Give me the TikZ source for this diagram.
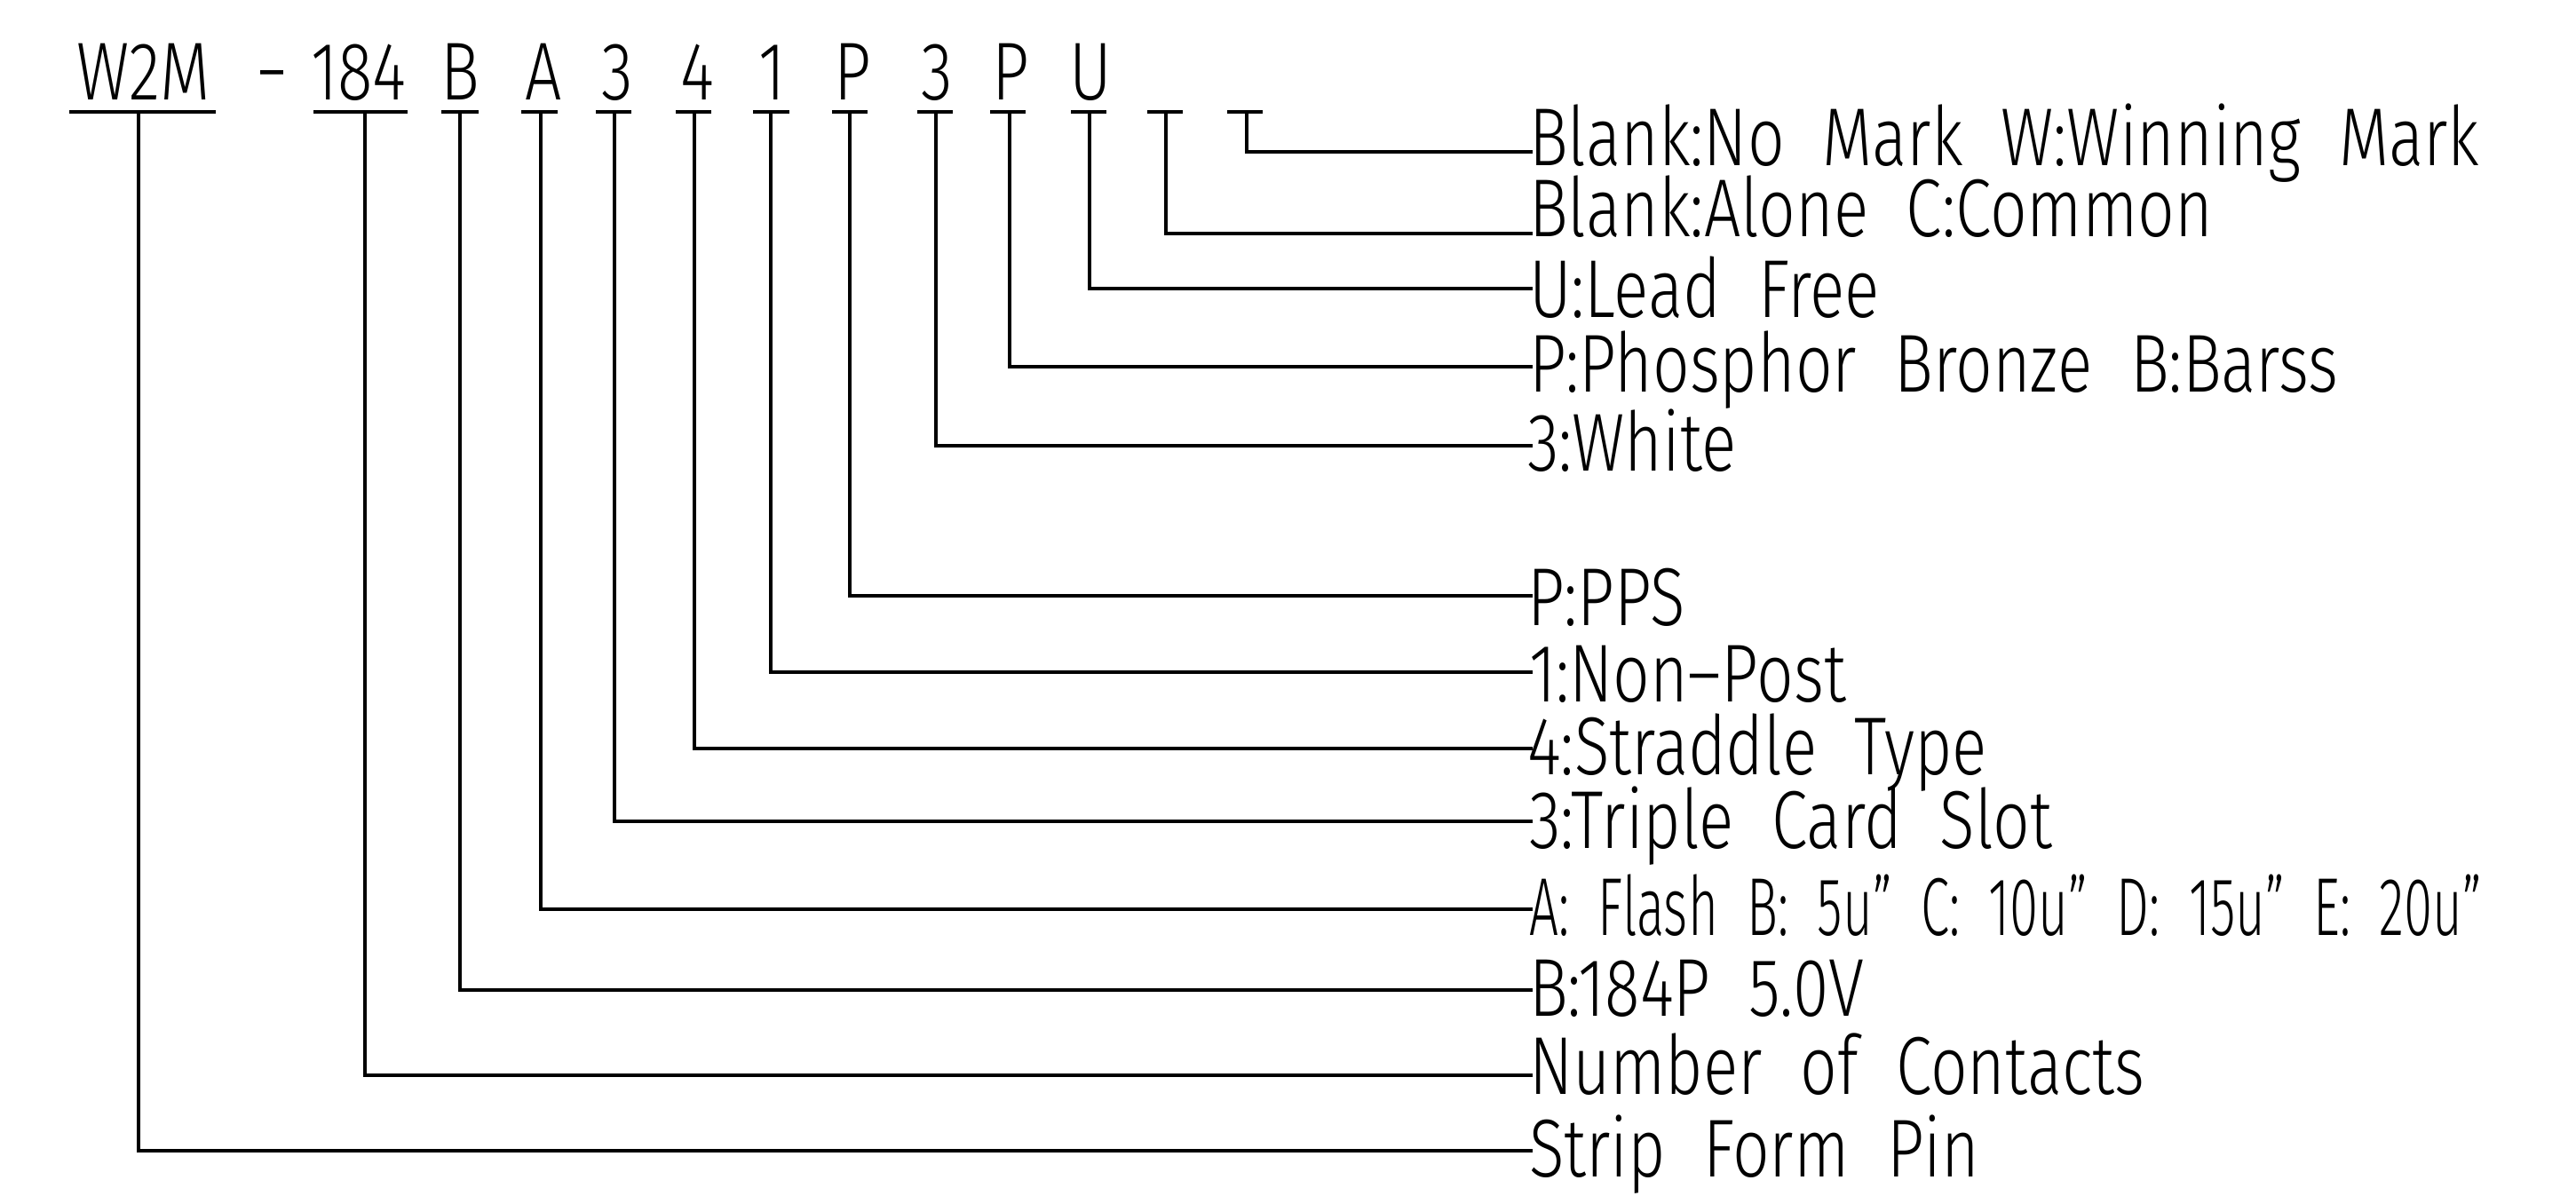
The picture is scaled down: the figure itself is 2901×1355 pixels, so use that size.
\documentclass[tikz,border=0pt]{standalone}
\usepackage{fontspec}
\setmainfont[FakeStretch=0.79,WordSpace=2.1]{Fira Sans Light}
\newfontfamily\narrowfont[FakeStretch=0.63,WordSpace=2]{Fira Sans Light}
\begin{document}
\begin{tikzpicture}[x=0.01cm,y=-0.01cm,
  lbl/.style={anchor=base west, inner sep=0pt, outer sep=0pt, font=\fontsize{26.3pt}{30pt}\selectfont},
  code/.style={anchor=base, inner sep=0pt, outer sep=0pt, font=\fontsize{26.3pt}{30pt}\selectfont},
  ul/.style={line width=1.2pt},
  lead/.style={line width=1.15pt}]
\useasboundingbox (0,0) rectangle (2901,1355);

% code characters
\node[code] (cW)   at (162,113)  {W2M};
\node[code] (cD)   at (307,113)  {−};
\node[code] (c184) at (404,113)  {184};
\node[code] (cB)   at (518,113)  {B};
\node[code] (cA)   at (612,113)  {A};
\node[code] (c3a)  at (695,113)  {3};
\node[code] (c4)   at (785,113)  {4};
\node[code] (c1)   at (870,113)  {1};
\node[code] (cP)   at (960,113)  {P};
\node[code] (c3b)  at (1055,113) {3};
\node[code] (cP2)  at (1138,113) {P};
\node[code] (cU)   at (1228,113) {U};

% underlines
\draw[ul] (78,126) -- (243,126);
\draw[ul] (353,126) -- (459,126);
\draw[ul] (497,126) -- (539,126);
\draw[ul] (587,126) -- (628,126);
\draw[ul] (671,126) -- (711,126);
\draw[ul] (761,126) -- (801,126);
\draw[ul] (848,126) -- (889,126);
\draw[ul] (937,126) -- (977,126);
\draw[ul] (1033,126) -- (1073,126);
\draw[ul] (1115,126) -- (1155,126);
\draw[ul] (1206,126) -- (1246,126);
\draw[ul] (1292,126) -- (1332,126);
\draw[ul] (1382,126) -- (1422,126);

% leader start points
\coordinate (tW)   at (156,126);
\coordinate (t184) at (411,126);
\coordinate (tB)   at (518,126);
\coordinate (tA)   at (609,126);
\coordinate (t3a)  at (692,126);
\coordinate (t4)   at (782,126);
\coordinate (t1)   at (868,126);
\coordinate (tP)   at (957,126);
\coordinate (t3b)  at (1054,126);
\coordinate (tP2)  at (1137,126);
\coordinate (tU)   at (1227,126);
\coordinate (tX1)  at (1313,126);
\coordinate (tX2)  at (1404,126);

% leader end points
\coordinate (eX2)  at (1726,171);
\coordinate (eX1)  at (1726,263);
\coordinate (eU)   at (1726,325);
\coordinate (eP2)  at (1726,413);
\coordinate (e3b)  at (1726,502);
\coordinate (eP)   at (1726,671);
\coordinate (e1)   at (1726,757);
\coordinate (e4)   at (1726,843);
\coordinate (e3a)  at (1726,925);
\coordinate (eA)   at (1726,1024);
\coordinate (eB)   at (1726,1115);
\coordinate (e184) at (1726,1211);
\coordinate (eW)   at (1726,1296);

% labels
\node[lbl] (lX2)  at (1722,187)  {Blank:No Mark W:Winning Mark};
\node[lbl] (lX1)  at (1722,267)  {Blank:Alone C:Common};
\node[lbl] (lU)   at (1722,357)  {U:Lead Free};
\node[lbl] (lP2)  at (1722,442)  {P:Phosphor Bronze B:Barss};
\node[lbl] (l3b)  at (1720,530)  {3:White};
\node[lbl] (lP)   at (1720,704)  {P:PPS};
\node[lbl] (l1)   at (1722,790)  {1:Non–Post};
\node[lbl] (l4)   at (1720,872)  {4:Straddle Type};
\node[lbl] (l3a)  at (1722,955)  {3:Triple Card Slot};
\node[lbl, font=\fontsize{26.3pt}{30pt}\narrowfont] (lA) at (1722,1053) {A: Flash B: 5u” C: 10u” D: 15u” E: 20u”};
\node[lbl] (lB)   at (1722,1144) {B:184P 5.0V};
\node[lbl] (l184) at (1722,1232) {Number of Contacts};
\node[lbl] (lW)   at (1722,1325) {Strip Form Pin};

% leaders
\draw[lead] (tX2) |- (eX2);
\draw[lead] (tX1) |- (eX1);
\draw[lead] (tU) |- (eU);
\draw[lead] (tP2) |- (eP2);
\draw[lead] (t3b) |- (e3b);
\draw[lead] (tP) |- (eP);
\draw[lead] (t1) |- (e1);
\draw[lead] (t4) |- (e4);
\draw[lead] (t3a) |- (e3a);
\draw[lead] (tA) |- (eA);
\draw[lead] (tB) |- (eB);
\draw[lead] (t184) |- (e184);
\draw[lead] (tW) |- (eW);
\end{tikzpicture}
\end{document}
